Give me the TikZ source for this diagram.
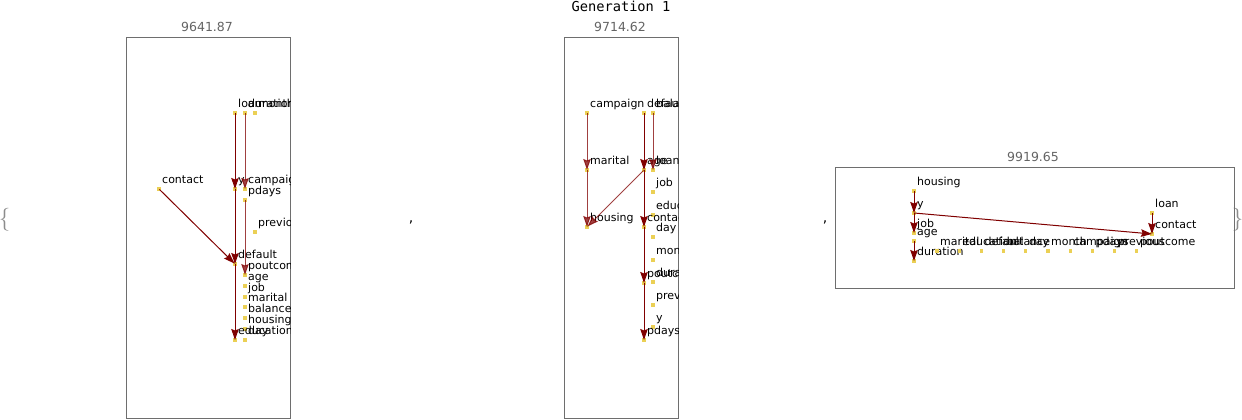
\documentclass[tikz,border=0pt]{standalone}
\usepackage{fontspec}
\newfontfamily\dejavu{DejaVu Sans}
\newfontfamily\dejamono{DejaVu Sans Mono}
\usetikzlibrary{arrows.meta}
\definecolor{edgec}{RGB}{128,0,0}
\definecolor{vtxc}{RGB}{235,208,85}
\definecolor{framec}{RGB}{110,110,110}
\definecolor{titlec}{RGB}{100,100,100}
\tikzset{
 vtx/.style={rectangle, fill=vtxc, minimum size=3.2pt, inner sep=0pt, outer sep=0pt},
 lbl/.style={anchor=base west, inner sep=0pt, font=\dejavu\fontsize{11}{13}\selectfont},
 edge/.style={draw=edgec, line width=1pt, -{Stealth[length=11pt,width=7.5pt,inset=1.5pt]}, shorten >=-1.6pt, shorten <=-1.6pt},
 faint/.style={opacity=0.75},
 panel/.style={draw=framec, line width=0.7pt},
 ttl/.style={text=titlec, inner sep=0pt, font=\dejavu\fontsize{12.5}{14}\selectfont, anchor=base},
 brace/.style={text=black!45, inner sep=0pt, anchor=base, font=\fontsize{23}{25}\selectfont},
 comma/.style={inner sep=0pt, anchor=base, font=\dejavu\fontsize{14}{16}\selectfont},
}
\newcommand\vx[4]{\node[vtx] (#1) at (#2,#3) {}; \node[lbl] (#1t) at (#2+3,#3-5.5) {#4};}
\begin{document}
\begin{tikzpicture}[x=1pt,y=-1pt]
\useasboundingbox (0,0) rectangle (1242,420);
% outer list
\node[brace] (lb) at (4.5,225) {\{};
\node[brace] (rb) at (1237.5,225) {\}};
\node[comma] (c1) at (411,222) {,};
\node[comma] (c2) at (825,222) {,};
\node[inner sep=0pt, anchor=base, font=\dejamono\fontsize{13.7}{15}\selectfont] (gen) at (621,12) {Generation 1};
% ---------------- left panel
\node[ttl] (Lttl) at (207,31.5) {9641.87};
\draw[panel] (126,37) rectangle (290,418);
\begin{scope}
\clip (126,37) rectangle (290,418);
\vx{Lloan}{235}{113}{loan}
\vx{Lduration}{245}{113}{duration}
\vx{Lmonth}{255}{113}{month}
\vx{Lcontact}{159}{189}{contact}
\vx{Ly}{235}{189}{y}
\vx{Lcampaign}{245}{189}{campaign}
\vx{Lpdays}{245}{200}{pdays}
\vx{Lprevious}{255}{232}{previous}
\vx{Ldefault}{235}{264}{default}
\vx{Lpoutcome}{245}{275}{poutcome}
\vx{Lage}{245}{286}{age}
\vx{Ljob}{245}{297}{job}
\vx{Lmarital}{245}{307}{marital}
\vx{Lbalance}{245}{318}{balance}
\vx{Lhousing}{245}{329}{housing}
\vx{Leducation}{235}{340}{education}
\vx{Lday}{245}{340}{day}
\draw[edge] (Lloan) -- (Ly);
\draw[edge] (Ly) -- (Ldefault);
\draw[edge] (Ldefault) -- (Leducation);
\draw[edge,faint] (Lduration) -- (Lcampaign);
\draw[edge,faint] (Lpdays) -- (Lpoutcome);
\draw[edge] (Lcontact) -- (Ldefault);
\end{scope}
% ---------------- middle panel
\node[ttl] (Mttl) at (620,31.5) {9714.62};
\draw[panel] (564,37) rectangle (678,418);
\begin{scope}
\clip (564,37) rectangle (678,418);
\vx{Mcampaign}{587}{113}{campaign}
\vx{Mdefault}{644}{113}{default}
\vx{Mbalance}{653}{113}{balance}
\vx{Mmarital}{587}{170}{marital}
\vx{Mage}{644}{170}{age}
\vx{Mloan}{653}{170}{loan}
\vx{Mjob}{653}{192}{job}
\vx{Meducation}{653}{215}{education}
\vx{Mhousing}{587}{227}{housing}
\vx{Mcontact}{644}{227}{contact}
\vx{Mday}{653}{237}{day}
\vx{Mmonth}{653}{260}{month}
\vx{Mduration}{653}{282}{duration}
\vx{Mpoutcome}{644}{283}{poutcome}
\vx{Mprevious}{653}{305}{previous}
\vx{My}{653}{327}{y}
\vx{Mpdays}{644}{340}{pdays}
\draw[edge,faint] (Mcampaign) -- (Mmarital);
\draw[edge,faint] (Mmarital) -- (Mhousing);
\draw[edge] (Mdefault) -- (Mage);
\draw[edge,faint] (Mbalance) -- (Mloan);
\draw[edge,faint] (Mage) -- (Mhousing);
\draw[edge] (Mage) -- (Mcontact);
\draw[edge] (Mcontact) -- (Mpoutcome);
\draw[edge] (Mpoutcome) -- (Mpdays);
\end{scope}
% ---------------- right panel
\node[ttl] (Rttl) at (1033,161.5) {9919.65};
\draw[panel] (835,167) rectangle (1234,288);
\begin{scope}
\clip (835,167) rectangle (1234,288);
\vx{Rhousing}{914}{191}{housing}
\vx{Ry}{914}{213}{y}
\vx{Rjob}{914}{233}{job}
\vx{Rage}{914}{241}{age}
\vx{Rduration}{914}{261}{duration}
\vx{Rloan}{1152}{213}{loan}
\vx{Rcontact}{1152}{234}{contact}
\vx{Rmarital}{937}{251}{marital}
\vx{Reducation}{959.2}{251}{education}
\vx{Rdefault}{981.4}{251}{default}
\vx{Rbalance}{1003.6}{251}{balance}
\vx{Rday}{1025.8}{251}{day}
\vx{Rmonth}{1048}{251}{month}
\vx{Rcampaign}{1070.2}{251}{campaign}
\vx{Rpdays}{1092.4}{251}{pdays}
\vx{Rprevious}{1114.6}{251}{previous}
\vx{Rpoutcome}{1136.8}{251}{poutcome}
\draw[edge] (Rhousing) -- (Ry);
\draw[edge] (Ry) -- (Rjob);
\draw[edge] (Ry) -- (Rcontact);
\draw[edge] (Rage) -- (Rduration);
\draw[edge] (Rloan) -- (Rcontact);
\end{scope}
\end{tikzpicture}
\end{document}
